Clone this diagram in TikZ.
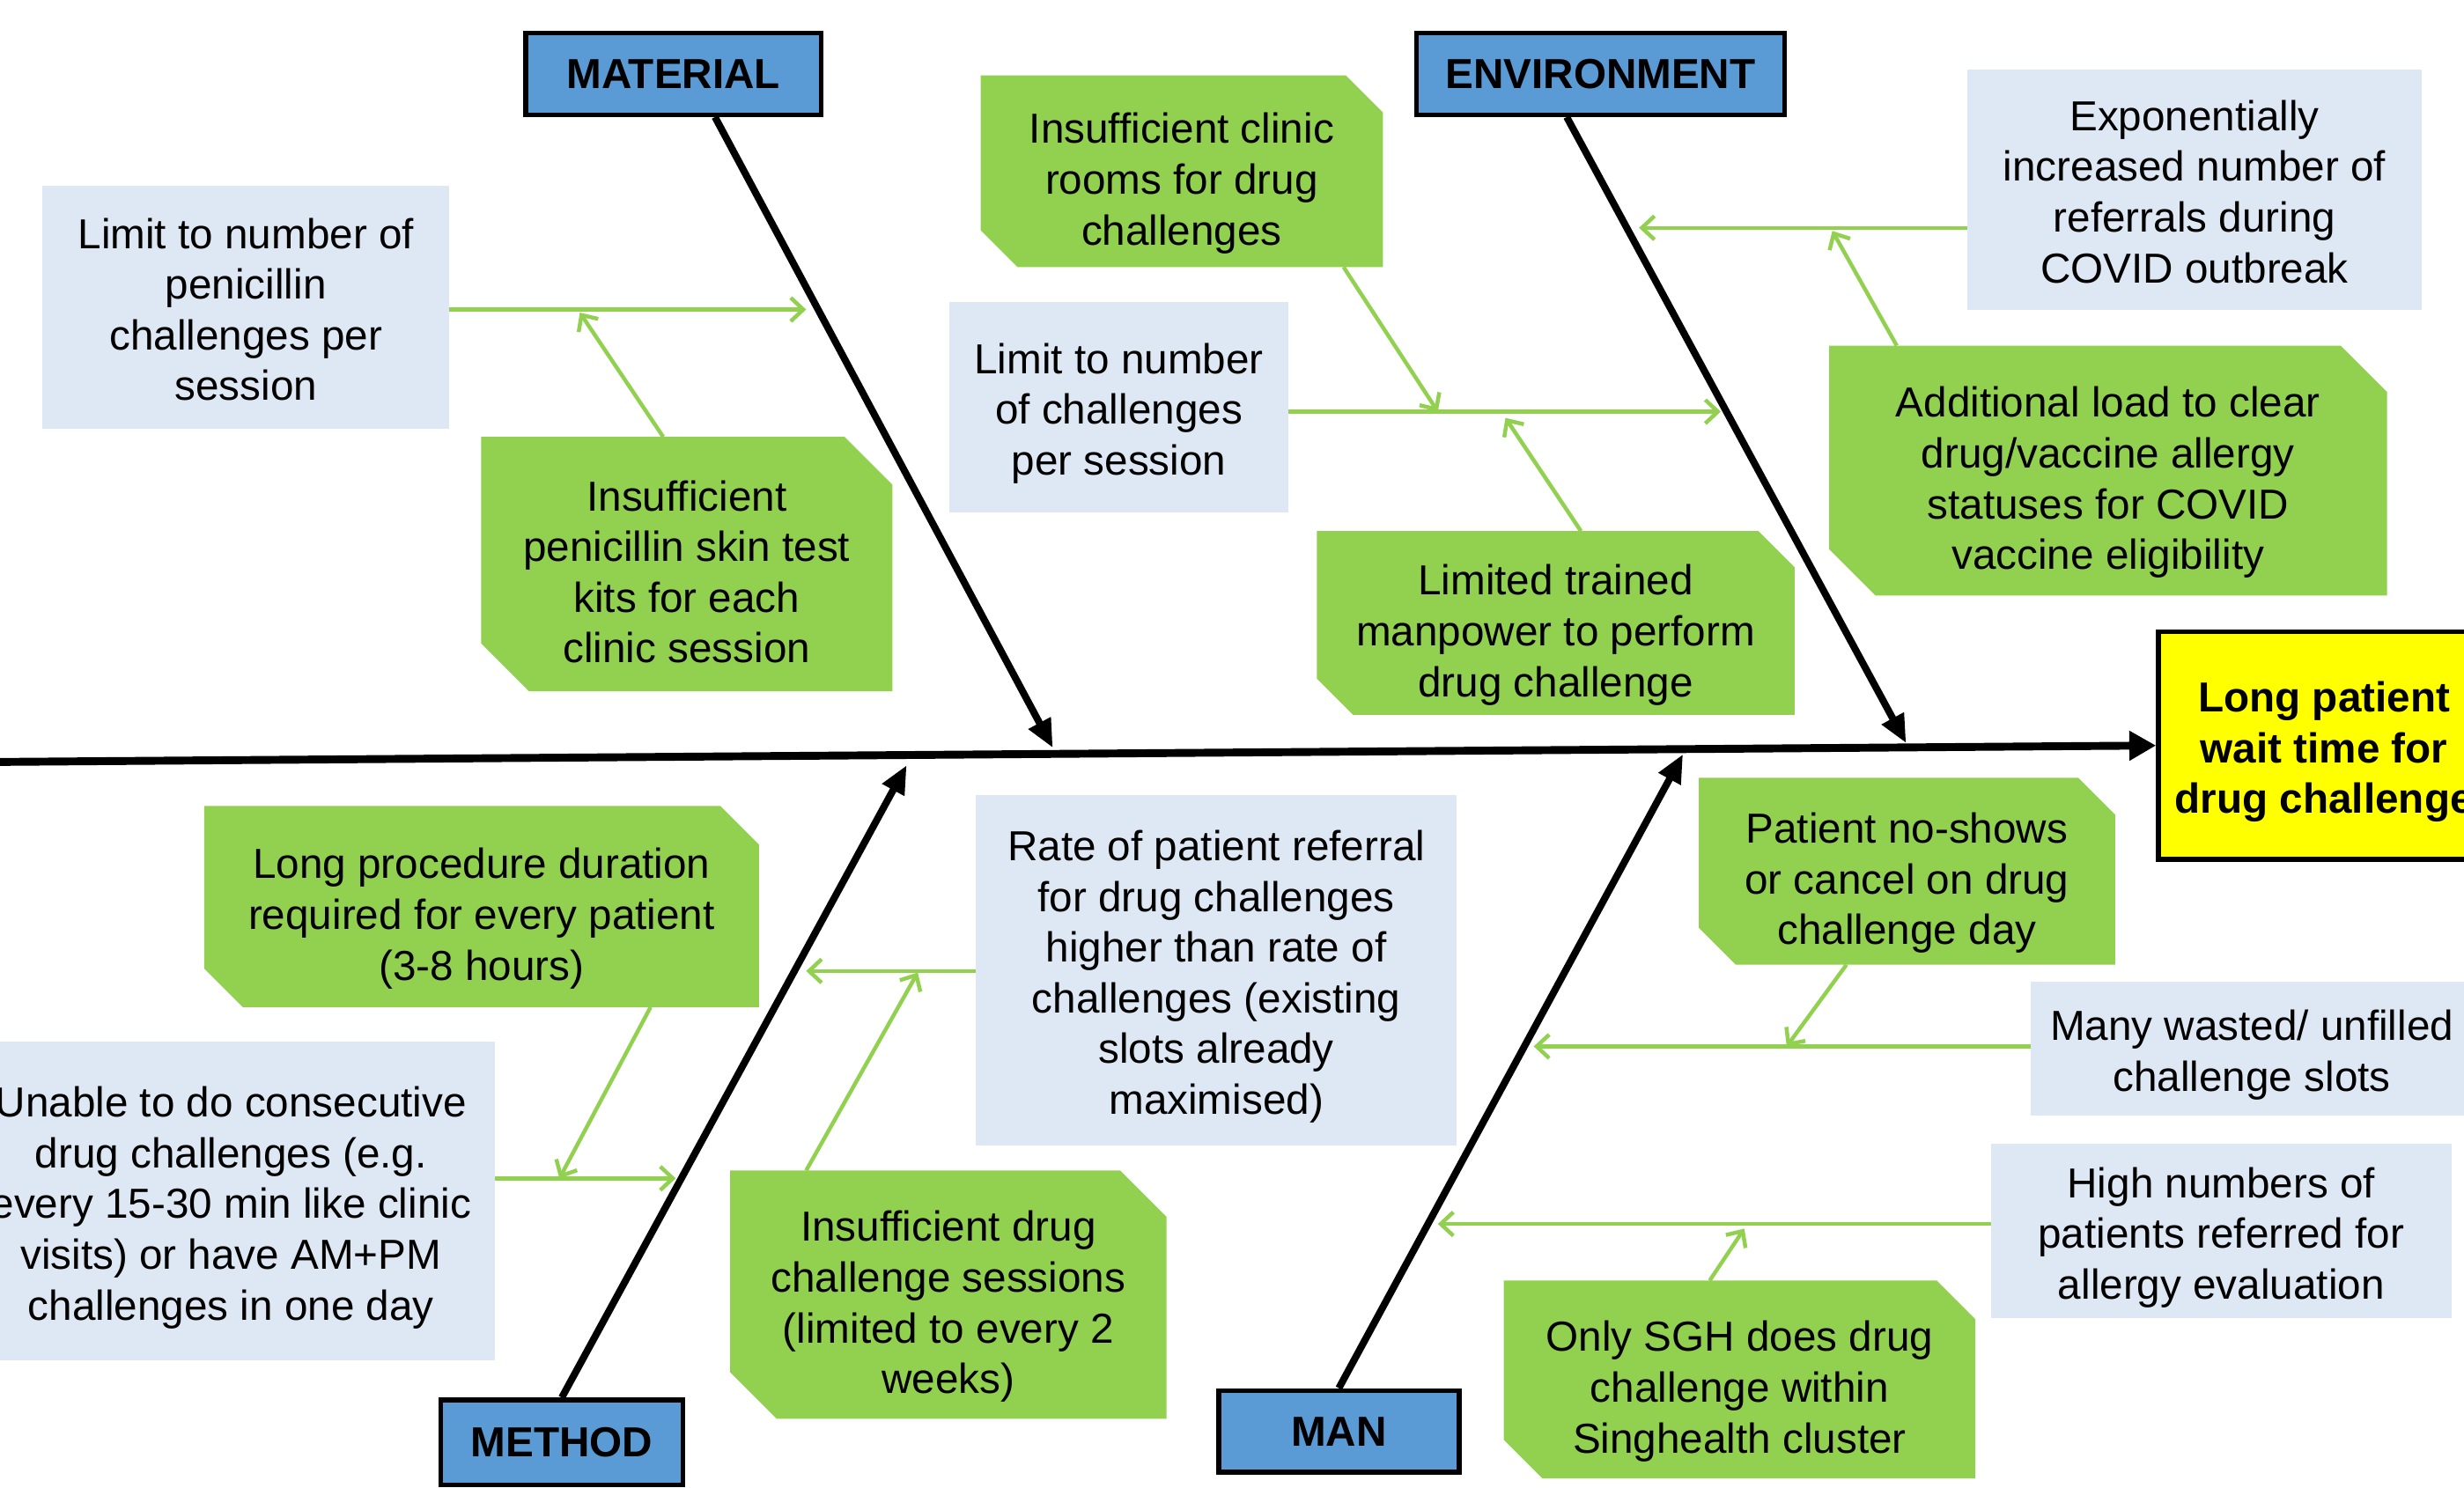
\documentclass[tikz,border=0pt]{standalone}
\usepackage{fontspec}
\setmainfont{Liberation Sans}
\usetikzlibrary{shapes.misc,arrows.meta,calc}
\definecolor{cgreen}{HTML}{92D050}
\definecolor{clblue}{HTML}{DDE8F4}
\definecolor{cblue}{HTML}{5B9BD5}
\definecolor{cyel}{HTML}{FFFF00}
\newcommand{\myLtop}{\rule{0pt}{29pt}}
\newcommand{\myGtop}{\rule{0pt}{36pt}}
\newcommand{\myBot}{\rule[-7pt]{0pt}{7pt}}
\tikzset{
  cause/.style={align=center, inner sep=0pt, outer sep=0pt, text=black,
    font=\fontsize{26.7}{32.3}\selectfont},
  lbox/.style={cause, rectangle, fill=clblue},
  gbox/.style={cause, chamfered rectangle, fill=cgreen,
    chamfered rectangle corners={north east,south west},
    chamfered rectangle xsep=#1},
  catbox/.style={rectangle, draw=black, line width=3pt, fill=cblue, inner sep=0pt,
    text=black, font=\fontsize{26.7}{32.2}\selectfont\bfseries},
  effbox/.style={rectangle, draw=black, line width=3pt, fill=cyel, inner sep=0pt,
    align=center, text=black, font=\fontsize{26.7}{32.3}\selectfont\bfseries},
  bone/.style={draw=black, line width=4.5pt, -{Triangle[length=18pt,width=15pt]}},
  spine/.style={draw=black, line width=5pt, -{Triangle[length=17pt,width=18pt]}},
  garrow/.style={draw=cgreen, line width=2.5pt, -{Straight Barb[length=8pt,width=15pt]}},
}
\begin{document}
\begin{tikzpicture}[x=1pt,y=-1pt]
\clip (0,0) rectangle (1568,947);
\fill[white] (0,0) rectangle (1568,947);

% light blue boxes
\node[lbox, minimum width=259pt, minimum height=155pt] (b1) at (156.5,195.5)
  {\myLtop Limit to number of\\penicillin\\challenges per\\session\myBot};
\node[lbox, minimum width=216pt, minimum height=134pt] (b4) at (712,259)
  {\myLtop Limit to number\\of challenges\\per session\myBot};
\node[lbox, minimum width=289pt, minimum height=153pt] (b6) at (1396.5,120.5)
  {\myLtop Exponentially\\increased number of\\referrals during\\COVID outbreak\myBot};
\node[lbox, minimum width=336pt, minimum height=203pt] (b9) at (147,764.5)
  {\myLtop Unable to do consecutive\\drug challenges (e.g.\\every 15-30 min like clinic\\visits) or have AM+PM\\challenges in one day\myBot};
\node[lbox, minimum width=306pt, minimum height=223pt] (b10) at (774,617.5)
  {\myLtop Rate of patient referral\\for drug challenges\\higher than rate of\\challenges (existing\\slots already\\maximised)\myBot};
\node[lbox, minimum width=282pt, minimum height=85pt] (b13) at (1433,667.5)
  {\myLtop Many wasted/ unfilled\\challenge slots\myBot};
\node[lbox, minimum width=293pt, minimum height=111pt] (b14) at (1413.5,783.5)
  {\myLtop High numbers of\\patients referred for\\allergy evaluation\myBot};

% green boxes
\node[gbox=27pt, minimum width=260pt, minimum height=162pt] (b2) at (437,359)
  {\myGtop Insufficient\\penicillin skin test\\kits for each\\clinic session\myBot};
\node[gbox=20pt, minimum width=256pt, minimum height=122pt] (b3) at (752,109)
  {\myGtop Insufficient clinic\\rooms for drug\\challenges\myBot};
\node[gbox=19.5pt, minimum width=304pt, minimum height=117pt] (b5) at (990,396.5)
  {\myGtop Limited trained\\manpower to perform\\drug challenge\myBot};
\node[gbox=26pt, minimum width=355pt, minimum height=159pt] (b7) at (1341.5,299.5)
  {\myGtop Additional load to clear\\drug/vaccine allergy\\statuses for COVID\\vaccine eligibility\myBot};
\node[gbox=21pt, minimum width=353pt, minimum height=128pt] (b8) at (306.5,577)
  {\myGtop Long procedure duration\\required for every patient\\(3-8 hours)\myBot};
\node[gbox=26pt, minimum width=277pt, minimum height=158pt] (b11) at (603.5,824)
  {\myGtop Insufficient drug\\challenge sessions\\(limited to every 2\\weeks)\myBot};
\node[gbox=20pt, minimum width=265pt, minimum height=119pt] (b12) at (1213.5,554.5)
  {\myGtop Patient no-shows\\or cancel on drug\\challenge day\myBot};
\node[gbox=21pt, minimum width=300pt, minimum height=126pt] (b15) at (1107,878)
  {\myGtop Only SGH does drug\\challenge within\\Singhealth cluster\myBot};

% category boxes
\node[catbox, minimum width=188pt, minimum height=52pt] (mat) at (428.5,47) {MATERIAL};
\node[catbox, minimum width=234pt, minimum height=52pt] (env) at (1018.5,47) {ENVIRONMENT};
\node[catbox, minimum width=154pt, minimum height=54pt] (met) at (357.5,918) {METHOD};
\node[catbox, minimum width=153pt, minimum height=52pt] (man) at (852,911) {MAN};

% effect box
\node[effbox, minimum width=211pt, minimum height=145pt] (eff) at (1479,474.5)
  {\myLtop Long patient\\wait time for\\drug challenge\myBot};

% coordinates
\coordinate (s0) at (-6,485);
\coordinate (tMat) at (670,476);
\coordinate (tEnv) at (1213,473);
\coordinate (tMet) at (577,487);
\coordinate (tMan) at (1071,480);
\coordinate (g1) at (513,197);
\coordinate (g2) at (369,199);
\coordinate (g3) at (915,262);
\coordinate (g4) at (1095,262);
\coordinate (g5) at (958,266);
\coordinate (g6) at (1043,145);
\coordinate (g7) at (1166,147);
\coordinate (g8) at (356,750);
\coordinate (g9) at (430,750);
\coordinate (g10) at (513,618);
\coordinate (g11) at (584,619);
\coordinate (g12) at (1137,666);
\coordinate (g13) at (976,666);
\coordinate (g14) at (915,779);
\coordinate (g15) at (1110,782);

% spine and bones
\draw[spine] (s0) -- (eff.west);
\draw[bone] ($(mat.south)+(26.5,0)$) -- (tMat);
\draw[bone] ($(env.south)+(-21.5,0)$) -- (tEnv);
\draw[bone] (met.north) -- (tMet);
\draw[bone] (man.north) -- (tMan);

% green cause arrows
\draw[garrow] (b1.east |- g1) -- (g1);
\draw[garrow] ($(b2.north)+(-15,0)$) -- (g2);
\draw[garrow] ($(b3.south)+(103,0)$) -- (g3);
\draw[garrow] (b4.east |- g4) -- (g4);
\draw[garrow] ($(b5.north)+(16,0)$) -- (g5);
\draw[garrow] (b6.west |- g6) -- (g6);
\draw[garrow] ($(b7.north)+(-134.5,0)$) -- (g7);
\draw[garrow] ($(b8.south)+(107.5,0)$) -- (g8);
\draw[garrow] (b9.east |- g9) -- (g9);
\draw[garrow] (b10.west |- g10) -- (g10);
\draw[garrow] ($(b11.north)+(-90.5,0)$) -- (g11);
\draw[garrow] ($(b12.south)+(-38.5,0)$) -- (g12);
\draw[garrow] (b13.west |- g13) -- (g13);
\draw[garrow] (b14.west |- g14) -- (g14);
\draw[garrow] ($(b15.north)+(-19,0)$) -- (g15);
\end{tikzpicture}
\end{document}
